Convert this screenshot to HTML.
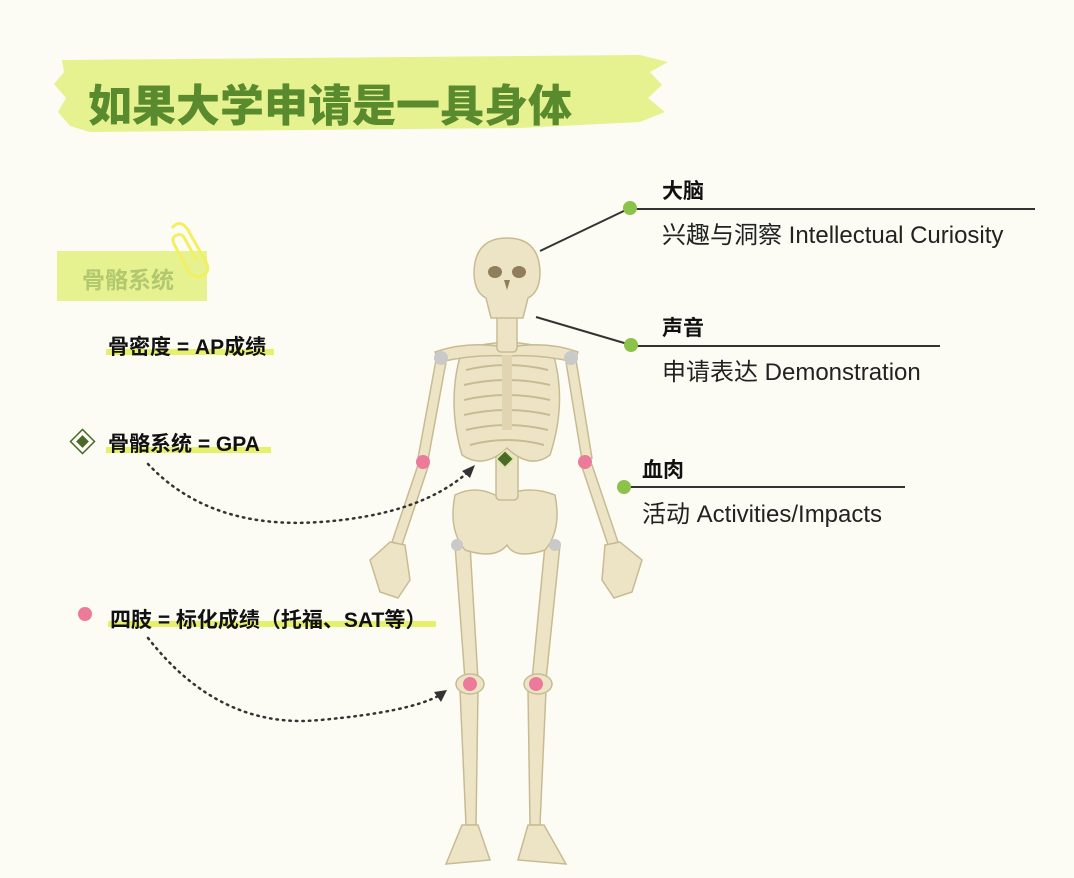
<!DOCTYPE html>
<html><head><meta charset="utf-8"><style>
html,body{margin:0;padding:0}
body{width:1074px;height:878px;background:#fcfcf4;position:relative;overflow:hidden;font-family:"Liberation Sans","Noto Sans CJK SC",sans-serif}
.t{position:absolute;white-space:nowrap}
.b{font-weight:bold;color:#111}
.hl{position:absolute;height:6px;background:#e6f06a}
</style></head><body>
<svg width="1074" height="878" style="position:absolute;left:0;top:0">
<path d="M62,60 L640,55 L668,62 L650,72 L662,85 L648,98 L665,112 L640,122 L520,128 L90,132 L70,126 L58,112 L66,98 L54,84 L64,72 Z" fill="#e6f290"/>
<rect x="57" y="251" width="150" height="50" fill="#e6f290"/>
<path d="M172,228 q8,-10 16,2 l18,32 q5,10 -4,14 q-9,3 -14,-6 l-14,-26 q-3,-7 3,-9 q5,-2 8,4 l12,22" fill="none" stroke="#f2f060" stroke-width="3"/>
<g stroke="#333" stroke-width="2" fill="none">
<line x1="540" y1="251" x2="630" y2="208"/><line x1="630" y1="209" x2="1035" y2="209"/>
<line x1="536" y1="317" x2="631" y2="345"/><line x1="631" y1="346" x2="940" y2="346"/>
<line x1="625" y1="487" x2="905" y2="487"/>
</g>
<g fill="#8bc34a"><circle cx="630" cy="208" r="7"/><circle cx="631" cy="345" r="7"/><circle cx="624" cy="487" r="7"/></g>
<g fill="#ede4c6" stroke="#c8bb93" stroke-width="1.5">
<path d="M455,545 L470,545 L478,680 L465,680 Z"/>
<path d="M545,545 L560,545 L546,680 L532,680 Z"/>
<path d="M460,690 L478,690 L476,825 L466,825 Z"/>
<path d="M528,690 L546,690 L540,825 L530,825 Z"/>
<ellipse cx="470" cy="684" rx="14" ry="10"/><ellipse cx="538" cy="684" rx="14" ry="10"/>
<path d="M462,825 L478,825 L490,860 L446,864 Z"/>
<path d="M528,825 L544,825 L566,864 L518,860 Z"/>
<path d="M436,360 L446,362 L428,460 L418,458 Z"/>
<path d="M566,362 L576,360 L592,458 L582,460 Z"/>
<path d="M418,465 L428,467 L402,545 L392,542 Z"/>
<path d="M582,467 L592,465 L618,542 L608,545 Z"/>
<path d="M390,542 L405,545 L410,580 L398,598 L380,592 L370,560 Z"/>
<path d="M605,545 L620,542 L642,560 L632,592 L614,598 L602,580 Z"/>
<path d="M455,495 Q475,485 495,495 L505,495 Q530,485 555,495 Q562,530 545,550 Q515,560 507,545 Q495,560 465,550 Q448,530 455,495 Z"/>
<rect x="496" y="440" width="22" height="60" rx="4"/>
<path d="M462,350 Q507,335 552,350 Q568,400 550,455 Q530,470 507,448 Q484,470 462,455 Q446,400 462,350 Z"/>
<path d="M435,352 Q470,340 507,348 Q544,340 578,352 L574,362 Q540,354 507,356 Q474,354 440,362 Z"/>
<rect x="497" y="312" width="20" height="40" rx="4"/>
<path d="M507,238 Q539,238 540,272 Q540,292 528,298 L523,318 L491,318 L486,298 Q474,292 474,272 Q475,238 507,238 Z"/>
</g>
<g stroke="#c8bb93" stroke-width="2" fill="none">
<path d="M466,370 Q507,360 548,370 M464,385 Q507,375 550,385 M464,400 Q507,390 550,400 M464,415 Q507,405 550,415 M466,430 Q507,420 548,430 M470,445 Q507,435 544,445"/>
</g>
<line x1="507" y1="355" x2="507" y2="430" stroke="#e0d5b0" stroke-width="10"/>
<g fill="#8e7e5c"><ellipse cx="495" cy="272" rx="7" ry="6"/><ellipse cx="519" cy="272" rx="7" ry="6"/><path d="M504,280 L510,280 L507,290 Z"/></g>
<g fill="#c9c9c9"><circle cx="441" cy="358" r="7"/><circle cx="571" cy="358" r="7"/><circle cx="457" cy="545" r="6"/><circle cx="555" cy="545" r="6"/></g>
<g fill="#ec7a9a"><circle cx="423" cy="462" r="7"/><circle cx="585" cy="462" r="7"/><circle cx="470" cy="684" r="7"/><circle cx="536" cy="684" r="7"/><circle cx="85" cy="614" r="7"/></g>
<rect x="499" y="453" width="12" height="12" transform="rotate(45 505 459)" fill="#4a6a2a" stroke="#d8e8a0" stroke-width="1.5"/>
<rect x="77" y="436" width="11" height="11" transform="rotate(45 82.5 441.5)" fill="#4a6a2a" stroke="#fcfcf4" stroke-width="2" />
<rect x="74" y="433" width="17" height="17" transform="rotate(45 82.5 441.5)" fill="none" stroke="#4a6a2a" stroke-width="1.5"/>
<g stroke="#333" stroke-width="2.5" stroke-dasharray="1.5 5" stroke-linecap="round" fill="none">
<path d="M148,464 Q210,530 320,522 Q420,515 468,472"/>
<path d="M148,638 Q220,730 320,720 Q410,712 440,695"/>
</g>
<path d="M475,465 L462,471 L470,478 Z" fill="#333"/>
<path d="M447,690 L434,692 L441,702 Z" fill="#333"/>
</svg>
<div class="t" style="left:88px;top:70px;font-size:44px;font-weight:900;color:#5a8a2e;letter-spacing:0px">如果大学申请是一具身体</div>
<div class="t" style="left:82px;top:261px;font-size:23px;font-weight:bold;color:#b2c870">骨骼系统</div>
<div class="hl" style="left:106px;top:349px;width:168px"></div>
<div class="t b" style="left:108px;top:331px;font-size:21px">骨密度 = AP成绩</div>
<div class="hl" style="left:106px;top:447px;width:165px"></div>
<div class="t b" style="left:108px;top:428px;font-size:21px">骨骼系统 = GPA</div>
<div class="hl" style="left:108px;top:621px;width:328px"></div>
<div class="t b" style="left:110px;top:604px;font-size:21px">四肢 = 标化成绩（托福、SAT等）</div>
<div class="t b" style="left:662px;top:175px;font-size:21px">大脑</div>
<div class="t" style="left:662px;top:215px;font-size:24px;color:#222">兴趣与洞察 Intellectual Curiosity</div>
<div class="t b" style="left:662px;top:312px;font-size:21px">声音</div>
<div class="t" style="left:662px;top:352px;font-size:24px;color:#222">申请表达 Demonstration</div>
<div class="t b" style="left:642px;top:454px;font-size:21px">血肉</div>
<div class="t" style="left:642px;top:494px;font-size:24px;color:#222">活动 Activities/Impacts</div>
</body></html>
